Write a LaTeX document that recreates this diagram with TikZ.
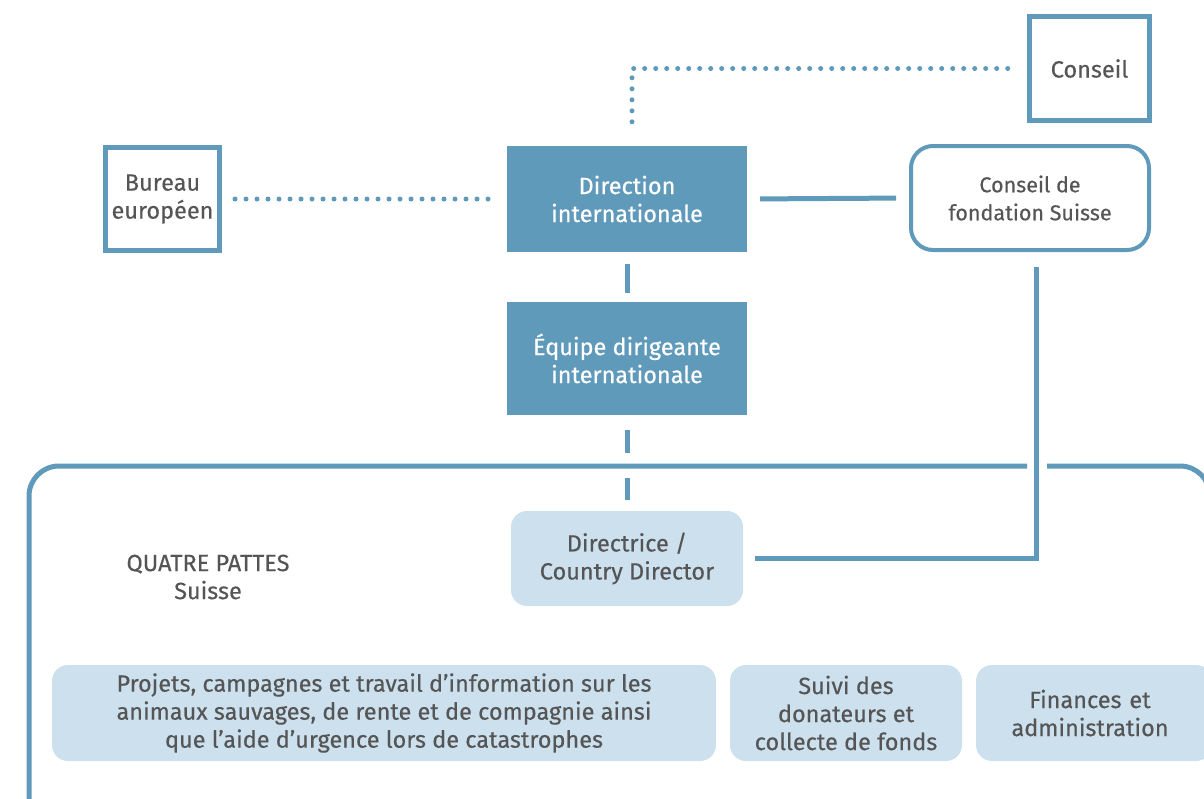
\documentclass[tikz,border=0pt]{standalone}
\usepackage{fontspec}
\setmainfont{Fira Sans}[FakeBold=0.35]
\definecolor{qpblue}{HTML}{5F9ABB}
\definecolor{qplight}{HTML}{CCE0EE}
\definecolor{qptext}{HTML}{555555}
\begin{document}
\begin{tikzpicture}[x=1pt,y=-1pt,
  every node/.style={font=\fontsize{23.5}{28}\selectfont, align=center, inner sep=0pt},
  outlinebox/.style={draw=qpblue, line width=5pt, fill=white, text=qptext},
  roundoutline/.style={draw=qpblue, line width=4pt, fill=white, text=qptext, rounded corners=22pt},
  darkbox/.style={fill=qpblue, text=white},
  lightbox/.style={fill=qplight, text=qptext, rounded corners=16pt},
  solidline/.style={draw=qpblue, line width=5pt},
  dotline/.style={draw=qpblue, line width=5pt, line cap=round, dash pattern=on 0pt off 11pt}
]
\useasboundingbox (0,0) rectangle (1204,798);
\clip (0,0) rectangle (1204,798);

% big frame
\draw[solidline, rounded corners=30pt] (1027,466) -| (29,840);
\draw[solidline, rounded corners=30pt] (1047,466) -| (1210,840);

% nodes
\node[outlinebox, minimum width=120pt, minimum height=104pt] (conseil) at (1089.5,68.5) {Conseil};
\node[outlinebox, minimum width=114pt, minimum height=103pt] (bureau) at (162.5,199) {Bureau\\européen};
\node[darkbox, minimum width=240pt, minimum height=106pt] (dir) at (627,199) {Direction\\internationale};
\node[roundoutline, minimum width=238pt, minimum height=104pt, font=\fontsize{21.5}{28}\selectfont] (cdf) at (1030,198) {Conseil de\\fondation Suisse};
\node[darkbox, minimum width=240pt, minimum height=113pt] (equ) at (627,358.5) {Équipe dirigeante\\internationale};
\node[lightbox, minimum width=232pt, minimum height=95pt] (dirc) at (627,558.5) {Directrice /\\Country Director};
\node[text=qptext] (qp) at (208,577) {QUATRE PATTES\\Suisse};
\node[lightbox, minimum width=664pt, minimum height=96pt] (proj) at (384,713) {Projets, campagnes et travail d’information sur les\\animaux sauvages, de rente et de compagnie ainsi\\que l’aide d’urgence lors de catastrophes};
\node[lightbox, minimum width=232pt, minimum height=96pt] (suivi) at (846,713) {Suivi des\\donateurs et\\collecte de fonds};
\node[lightbox, minimum width=236pt, minimum height=96pt, text width=230pt] (fin) at (1094,713) {\hspace*{-8pt}Finances et\\\hspace*{-8pt}administration};

% connectors
\draw[dotline] ([xshift=5pt,yshift=24pt]dir.north) |- ([xshift=-17pt]conseil.west);
\draw[dotline, shorten <=13pt, shorten >=14pt] (bureau.east) -- (dir.west);
\draw[solidline, shorten <=13pt, shorten >=13pt] (dir.east) -- (cdf.west);
\draw[solidline, shorten <=12pt, shorten >=9pt] (dir.south) -- (equ.north);
\draw[solidline, shorten <=15pt, shorten >=11pt, dash pattern=on 23pt off 25pt on 22pt off 30pt] (equ.south) -- (dirc.north);
\draw[solidline] ([xshift=6pt,yshift=-15pt]cdf.south) |- ([xshift=12pt]dirc.east);
\end{tikzpicture}
\end{document}
